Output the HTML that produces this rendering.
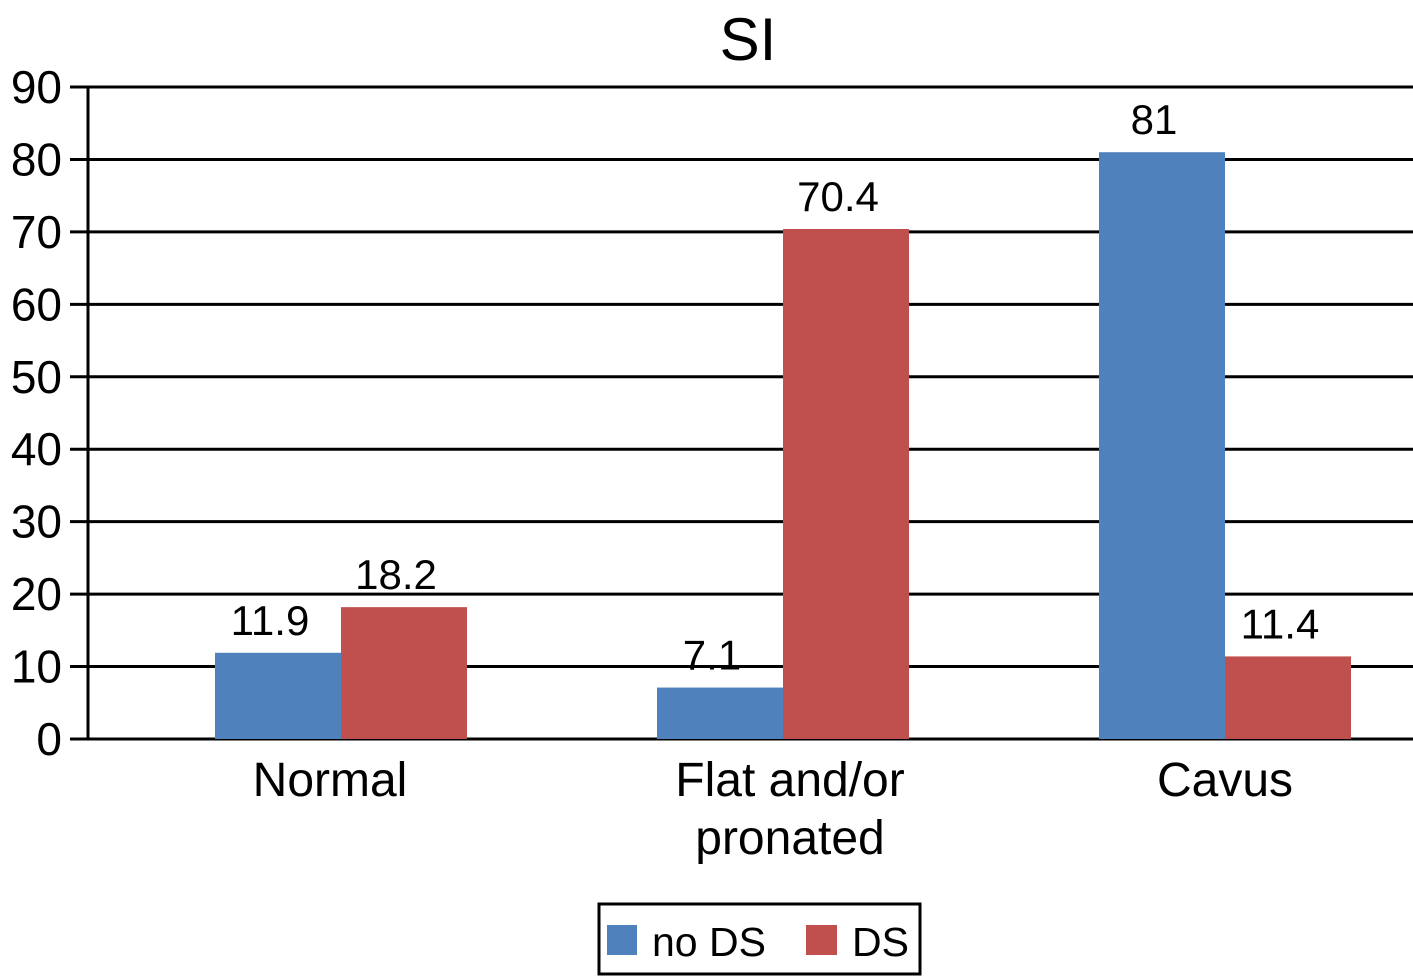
<!DOCTYPE html>
<html><head><meta charset="utf-8"><style>
html,body{margin:0;padding:0;background:#fff;}
svg{display:block;font-family:"Liberation Sans",Arial,sans-serif;}
</style></head><body>
<svg id="chart" width="1413" height="977" viewBox="0 0 1413 977">
<text x="748" y="60" font-size="60" text-anchor="middle">SI</text>
<g id="grid"></g><g id="bars"></g><g id="labels"></g>
<g>
<rect x="599" y="904" width="321" height="70" fill="#fff" stroke="#000" stroke-width="3"/>
<rect x="607" y="925" width="30" height="30" fill="#4F81BD"/>
<text x="652" y="956" font-size="41">no DS</text>
<rect x="806" y="925" width="31" height="30" fill="#C0504D"/>
<text x="852" y="956" font-size="41">DS</text>
</g>
</svg>
<script>
const categories=[["Normal"],["Flat and/or","pronated"],["Cavus"]];
const noDS=[11.9,7.1,81];
const ds=[18.2,70.4,11.4];
const yTicks=[0,10,20,30,40,50,60,70,80,90];
const NS="http://www.w3.org/2000/svg";
const y0=739,yTop=87,yMax=90;
function yS(v){return y0-(y0-yTop)*v/yMax;}
function xC(i){return 341+442*i;}
const bw=126;
const labelNudge=[-11,7,0];
function mk(tag,attrs,parent){const e=document.createElementNS(NS,tag);for(const k in attrs)e.setAttribute(k,attrs[k]);parent.appendChild(e);return e;}
const grid=document.getElementById('grid'),bars=document.getElementById('bars'),labels=document.getElementById('labels');
yTicks.forEach(t=>{
 const l=mk('line',{x1:70,x2:1413,y1:yS(t),y2:yS(t),stroke:'#000','stroke-width':3},grid);
 
 
 const tx=mk('text',{x:62,y:yS(t)+16,'font-size':46,'text-anchor':'end'},grid);
 tx.textContent=t;
 
 
});
const ax=mk('line',{x1:88,x2:88,y1:yTop,y2:y0,stroke:'#000','stroke-width':3},grid);


categories.forEach((c,i)=>{
 [[noDS,'#4F81BD',-bw,'no-ds'],[ds,'#C0504D',0,'ds']].forEach(([arr,col,off,nm])=>{
  const v=arr[i];
  const r=mk('rect',{x:xC(i)+off,y:yS(v),width:bw,height:y0-yS(v),fill:col},bars);
  
  
  const t=mk('text',{x:xC(i)+off+bw/2-8,y:yS(v)-18,'font-size':42,'text-anchor':'middle'},labels);
  t.textContent=v;
  
  
 });
 c.forEach((line,j)=>{
  const t=mk('text',{x:xC(i)+labelNudge[i],y:796+j*58,'font-size':48,'text-anchor':'middle'},labels);
  t.textContent=line;
  
  
 });
});
bars.parentNode.appendChild(grid.lastChild);
</script>
</body></html>
